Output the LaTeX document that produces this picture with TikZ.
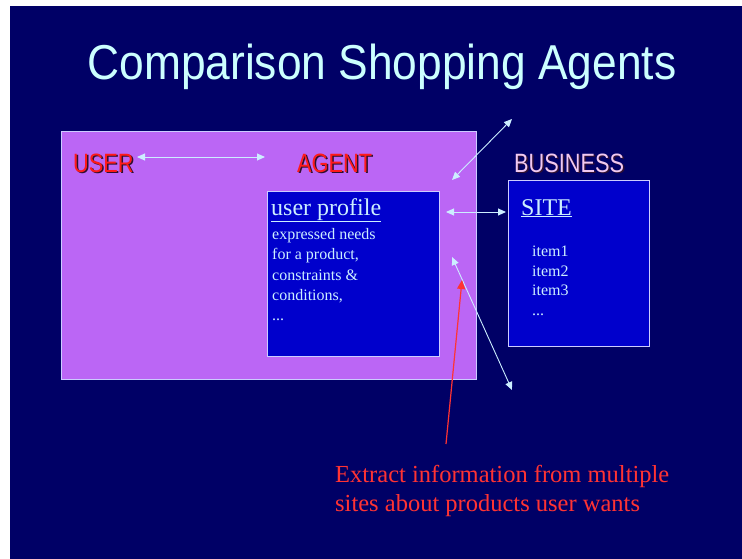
\documentclass[tikz,border=0pt]{standalone}
\usepackage{fontspec}
\setmainfont{Liberation Serif}
\newfontfamily\labfont{Liberation Sans}
\usetikzlibrary{arrows.meta}
\definecolor{navy}{HTML}{000066}
\definecolor{violetbox}{HTML}{BB66F5}
\definecolor{bluebox}{HTML}{0000CC}
\definecolor{edgelite}{HTML}{CCCCFF}
\definecolor{arrowlite}{HTML}{CCEEFF}
\definecolor{titlecol}{HTML}{CCFFFF}
\definecolor{labred}{HTML}{FF1A1A}
\definecolor{bizcol}{HTML}{F0C8F0}
\definecolor{shadowcol}{HTML}{301030}
\definecolor{notered}{HTML}{FF3333}
\tikzset{
  panel/.style={draw=edgelite, line width=1pt},
  biglabel/.style={inner sep=0pt, anchor=base west, font=\labfont\fontsize{26.5}{30}\selectfont},
  serifhead/.style={inner sep=0pt, anchor=base west, text=arrowlite, font=\fontsize{24}{28}\selectfont},
  seriftext/.style={inner sep=0pt, anchor=base west, text=arrowlite, font=\fontsize{16}{19}\selectfont},
  linkarrow/.style={draw=arrowlite, line width=0.9pt, {Triangle[length=8pt,width=7pt]}-{Triangle[length=8pt,width=7pt]}},
  redarrow/.style={draw=notered, line width=1.2pt, -{Triangle[length=9pt,width=8pt]}},
  notetext/.style={inner sep=0pt, anchor=base west, text=notered, font=\fontsize{24.5}{29}\selectfont}
}
\begin{document}
\begin{tikzpicture}[x=1pt,y=-1pt]
\useasboundingbox (0,0) rectangle (742,559);
\fill[white] (0,0) rectangle (742,559);
\fill[navy] (10,6) rectangle (742,559);
% title
\node[inner sep=0pt, anchor=base, text=titlecol, font=\labfont\fontsize{49}{56}\selectfont] (title) at (382,80) {\scalebox{0.905}[1]{Comparison Shopping Agents}};
% boxes
\node[panel, fill=violetbox, anchor=north west, minimum width=415pt, minimum height=248pt, inner sep=0pt] (agentbox) at (61,131) {};
\node[panel, fill=bluebox, anchor=north west, minimum width=172pt, minimum height=165pt, inner sep=0pt] (profile) at (267,191) {};
\node[panel, fill=bluebox, anchor=north west, minimum width=141pt, minimum height=166pt, inner sep=0pt] (site) at (508,180) {};
% big labels with shadow
\node[biglabel, text=shadowcol] at (74.5,173.5) {\scalebox{0.82}[1]{USER}};
\node[biglabel, text=labred] (user) at (73,172) {\scalebox{0.82}[1]{USER}};
\node[biglabel, text=shadowcol] at (298.5,173.5) {\scalebox{0.82}[1]{AGENT}};
\node[biglabel, text=labred] (agent) at (297,172) {\scalebox{0.82}[1]{AGENT}};
\node[biglabel, text=shadowcol] at (515.5,173.5) {\scalebox{0.82}[1]{BUSINESS}};
\node[biglabel, text=bizcol] (business) at (514,172) {\scalebox{0.82}[1]{BUSINESS}};
% profile text
\node[serifhead] (profhead) at (271,215) {\underline{user profile}};
\node[seriftext] (p1) at (272,239) {expressed needs};
\node[seriftext] (p2) at (272,259.5) {for a product,};
\node[seriftext] (p3) at (272,280) {constraints \&};
\node[seriftext] (p4) at (272,300) {conditions,};
\node[seriftext] (p5) at (272,320) {...};
% site text
\node[serifhead] (sitehead) at (521,215) {\underline{SITE}};
\node[seriftext] (i1) at (532,256) {item1};
\node[seriftext] (i2) at (532,276) {item2};
\node[seriftext] (i3) at (532,295.5) {item3};
\node[seriftext] (i4) at (532,315) {...};
% arrows
\coordinate (ua) at (137,157);
\coordinate (ub) at (265,157);
\coordinate (sa) at (446,212);
\coordinate (sb) at (506,212);
\coordinate (na) at (452,180);
\coordinate (nb) at (512,119);
\coordinate (da) at (452,257);
\coordinate (db) at (512,390);
\coordinate (rt) at (446,444);
\coordinate (rh) at (462,280);
\draw[linkarrow] (ua) -- (ub);
\draw[linkarrow] (sa) -- (sb);
\draw[linkarrow] (na) -- (nb);
\draw[linkarrow] (da) -- (db);
\draw[redarrow] (rt) -- (rh);
% note
\node[notetext] (note1) at (335,482) {Extract information from multiple};
\node[notetext] (note2) at (335,511) {sites about products user wants};
\end{tikzpicture}
\end{document}
